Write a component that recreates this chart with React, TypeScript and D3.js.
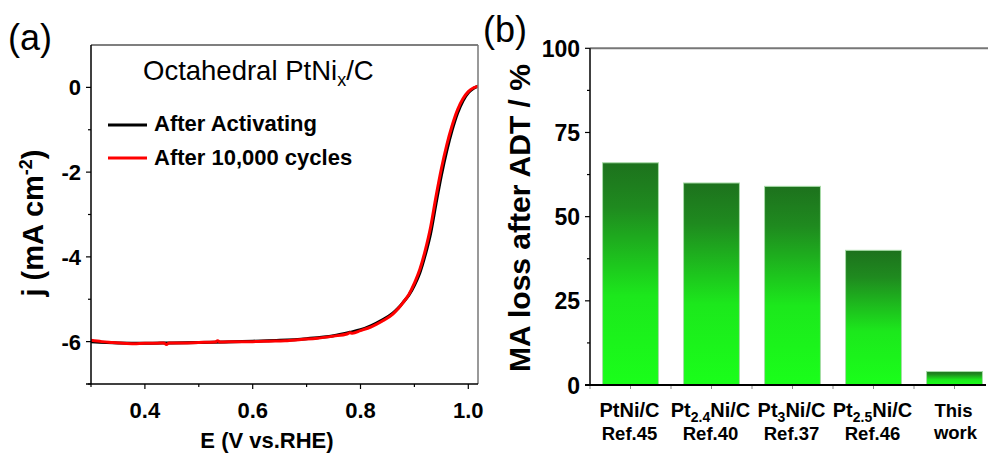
import React from "react";
import * as d3 from "d3";

// ---- Panel (a): ORR polarization curves ----
const activatedE = [0.3, 0.35, 0.4, 0.45, 0.5, 0.55, 0.6, 0.65, 0.7, 0.75, 0.78, 0.8, 0.82, 0.84, 0.86, 0.87, 0.88, 0.89, 0.9, 0.91, 0.92, 0.93, 0.94, 0.95, 0.96, 0.97, 0.98, 0.99, 1.0, 1.01, 1.018];
const activatedJ = [-6.0, -6.03, -6.04, -6.03, -6.02, -6.01, -5.99, -5.97, -5.93, -5.86, -5.78, -5.72, -5.62, -5.49, -5.33, -5.21, -5.06, -4.9, -4.67, -4.38, -3.96, -3.45, -2.75, -2.08, -1.5, -1.01, -0.61, -0.32, -0.13, -0.02, 0.03];

const cycledE = [0.3, 0.32, 0.34, 0.36, 0.38, 0.4, 0.42, 0.435, 0.44, 0.445, 0.47, 0.5, 0.53, 0.535, 0.54, 0.57, 0.6, 0.63, 0.66, 0.69, 0.72, 0.75, 0.775, 0.78, 0.785, 0.8, 0.82, 0.84, 0.86, 0.87, 0.88, 0.89, 0.9, 0.91, 0.92, 0.93, 0.94, 0.95, 0.96, 0.97, 0.98, 0.99, 1.0, 1.01, 1.018];
const cycledJ = [-5.97, -6.0, -6.02, -6.04, -6.05, -6.04, -6.04, -6.03, -6.07, -6.03, -6.03, -6.02, -6.01, -5.98, -6.01, -6.0, -6.0, -5.99, -5.98, -5.95, -5.92, -5.87, -5.82, -5.79, -5.8, -5.74, -5.65, -5.52, -5.35, -5.22, -5.06, -4.88, -4.62, -4.3, -3.85, -3.3, -2.58, -1.92, -1.36, -0.9, -0.53, -0.27, -0.1, -0.01, 0.03];

const eMajorTicks = [0.4, 0.6, 0.8, 1.0];
const eMinorTicks = [0.3, 0.5, 0.7, 0.9];
const jMajorTicks = [0, -2, -4, -6];
const jMinorTicks = [-1, -3, -5, -7];

// ---- Panel (b): mass-activity loss after ADT ----
const catalysts = ["PtNi/C", "Pt2.4Ni/C", "Pt3Ni/C", "Pt2.5Ni/C", "This work"];
const references = ["Ref.45", "Ref.40", "Ref.37", "Ref.46", ""];
const maLoss = [66, 60, 59, 40, 4];
const lossMajorTicks = [0, 25, 50, 75, 100];
const lossMinorTicks = [12.5, 37.5, 62.5, 87.5];

const FONT = "'Liberation Sans', Arial, sans-serif";

export default function App() {
  // panel (a) scales
  const ax = d3.scaleLinear().domain([0.3, 1.018]).range([91, 478]);
  const ay = d3.scaleLinear().domain([-7, 1]).range([384, 45]);
  const line = d3
    .line<[number, number]>()
    .x((d) => ax(d[0]))
    .y((d) => ay(d[1]))
    .curve(d3.curveMonotoneX);
  const activated = activatedE.map((e, i) => [e, activatedJ[i]] as [number, number]);
  const cycled = cycledE.map((e, i) => [e, cycledJ[i]] as [number, number]);

  // panel (b) scales
  const bx = d3.scaleBand<string>().domain(catalysts).range([590, 995]).paddingInner(0.31).paddingOuter(0.155);
  const by = d3.scaleLinear().domain([0, 100]).range([385, 48.3]);
  const bandEdges = catalysts.flatMap((c) => [bx(c)! - (bx.step() - bx.bandwidth()) / 2, bx(c)! + bx.bandwidth() / 2]);

  const catLabel = (c: string) => {
    const m = c.match(/^Pt([\d.]+)Ni\/C$/);
    if (m) {
      return (
        <>
          Pt<tspan fontSize={14} dy={5}>{m[1]}</tspan>
          <tspan dy={-5}>Ni/C</tspan>
        </>
      );
    }
    return c;
  };

  return (
    <svg width={988} height={456} style={{ position: "absolute", left: 0, top: 0, background: "#fff" }} fontFamily={FONT}>
      <defs>
        <clipPath id="clipA">
          <rect x={91} y={45} width={387} height={339} />
        </clipPath>
        <linearGradient id="barFill" x1="0" y1="0" x2="0" y2="1">
          <stop offset="0" stopColor="#1d721d" />
          <stop offset="0.2" stopColor="#1f8a1f" />
          <stop offset="0.6" stopColor="#1ce81c" />
          <stop offset="1" stopColor="#1aff1a" />
        </linearGradient>
      </defs>

      {/* ===== Panel (a) ===== */}
      <text x={8} y={50} fontSize={36}>(a)</text>
      <g clipPath="url(#clipA)">
        <path d={line(activated)!} fill="none" stroke="#000" strokeWidth={3} />
        <path d={line(cycled)!} fill="none" stroke="#ff0000" strokeWidth={3} />
      </g>
      {/* frame */}
      <line x1={91} x2={478} y1={45} y2={45} stroke="#555" strokeWidth={1.5} />
      <line x1={478} x2={478} y1={45} y2={384} stroke="#777" strokeWidth={1.5} />
      <line x1={91} x2={91} y1={45} y2={384} stroke="#000" strokeWidth={1.5} />
      <line x1={86} x2={478} y1={384} y2={384} stroke="#000" strokeWidth={1.5} />
      {jMajorTicks.map((t) => (
        <g key={"jm" + t}>
          <line x1={86} x2={91} y1={ay(t)} y2={ay(t)} stroke="#000" strokeWidth={1.2} />
          <text x={81} y={ay(t) + 8} textAnchor="end" fontSize={22} fontWeight="bold">{t === 0 ? "0" : "-" + Math.abs(t)}</text>
        </g>
      ))}
      {jMinorTicks.map((t) => (
        <line key={"jn" + t} x1={88} x2={91} y1={ay(t)} y2={ay(t)} stroke="#000" strokeWidth={1.2} />
      ))}
      {eMajorTicks.map((t) => (
        <g key={"em" + t}>
          <line x1={ax(t)} x2={ax(t)} y1={384} y2={389} stroke="#000" strokeWidth={1.2} />
          <text x={ax(t)} y={418} textAnchor="middle" fontSize={22} fontWeight="bold">{t.toFixed(1)}</text>
        </g>
      ))}
      {eMinorTicks.map((t) => (
        <line key={"en" + t} x1={ax(t)} x2={ax(t)} y1={384} y2={387} stroke="#000" strokeWidth={1.2} />
      ))}
      <text x={267} y={448} textAnchor="middle" fontSize={22} fontWeight="bold">E (V vs.RHE)</text>
      <text transform="translate(43,223) rotate(-90)" textAnchor="middle" fontSize={29} fontWeight="bold">
        j (mA cm<tspan fontSize={18} dy={-11}>-2</tspan><tspan dy={11}>)</tspan>
      </text>
      {/* title and legend */}
      <text x={143} y={80} fontSize={27.5}>
        Octahedral PtNi<tspan fontSize={18} dy={6}>x</tspan><tspan dy={-6}>/C</tspan>
      </text>
      <line x1={108} x2={147} y1={125} y2={125} stroke="#000" strokeWidth={3} />
      <text x={154} y={131} fontSize={22} fontWeight="bold">After Activating</text>
      <line x1={108} x2={147} y1={158} y2={158} stroke="#ff0000" strokeWidth={3} />
      <text x={154} y={165} fontSize={22} fontWeight="bold">After 10,000 cycles</text>

      {/* ===== Panel (b) ===== */}
      <text x={483} y={42} fontSize={36}>(b)</text>
      {catalysts.map((c, i) => (
        <rect
          key={c}
          x={bx(c)}
          y={by(maLoss[i])}
          width={bx.bandwidth()}
          height={by(0) - by(maLoss[i])}
          fill="url(#barFill)"
          stroke="#a8dca8"
          strokeWidth={1}
        />
      ))}
      <line x1={590} x2={988} y1={48.3} y2={48.3} stroke="#777" strokeWidth={2} />
      <line x1={590} x2={590} y1={48.3} y2={385} stroke="#000" strokeWidth={1.5} />
      <line x1={585} x2={986} y1={385} y2={385} stroke="#000" strokeWidth={2} />
      {bandEdges.map((x, i) => (
        <line key={"bt" + i} x1={x} x2={x} y1={386} y2={389} stroke="#888" strokeWidth={1} />
      ))}
      {lossMajorTicks.map((t) => (
        <g key={"lm" + t}>
          <line x1={585} x2={590} y1={by(t)} y2={by(t)} stroke="#000" strokeWidth={1.2} />
          <text x={580} y={by(t) + 8.5} textAnchor="end" fontSize={23} fontWeight="bold">{t}</text>
        </g>
      ))}
      {lossMinorTicks.map((t) => (
        <line key={"ln" + t} x1={587} x2={590} y1={by(t)} y2={by(t)} stroke="#000" strokeWidth={1.2} />
      ))}
      <text transform="translate(530,218) rotate(-90)" textAnchor="middle" fontSize={30} fontWeight="bold">
        MA loss after ADT / %
      </text>
      {catalysts.map((c, i) => {
        const cx = bx(c)! + bx.bandwidth() / 2;
        if (!references[i]) {
          const [first, second] = c.split(" ");
          return (
            <g key={"xl" + c}>
              <text x={cx - 1} y={417} textAnchor="middle" fontSize={18.5} fontWeight="bold">{first}</text>
              <text x={cx + 1} y={439} textAnchor="middle" fontSize={18.5} fontWeight="bold">{second}</text>
            </g>
          );
        }
        return (
          <g key={"xl" + c}>
            <text x={cx - 1} y={416.5} textAnchor="middle" fontSize={20} fontWeight="bold">{catLabel(c)}</text>
            <text x={cx - 1} y={440} textAnchor="middle" fontSize={18.5} fontWeight="bold">{references[i]}</text>
          </g>
        );
      })}
    </svg>
  );
}
